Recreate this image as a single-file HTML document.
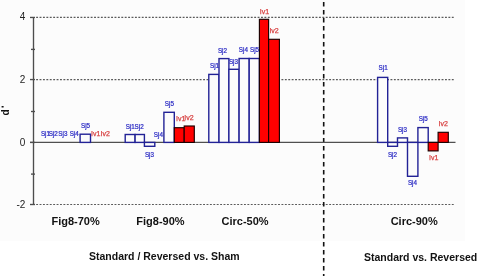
<!DOCTYPE html><html><head><meta charset="utf-8"><style>html,body{margin:0;padding:0;background:#fff;width:478px;height:276px;overflow:hidden}svg{display:block}text{font-family:"Liberation Sans",sans-serif}</style></head><body>
<svg width="478" height="276" viewBox="0 0 478 276">
<rect width="478" height="276" fill="#fff"/>
<rect width="465" height="241" fill="#fcfcfc"/>
<line x1="36.15" y1="17.45" x2="454.5" y2="17.45" stroke="#5a5a5a" stroke-width="1.2" stroke-dasharray="1.9 1.507"/>
<line x1="36.15" y1="79.55" x2="454.5" y2="79.55" stroke="#5a5a5a" stroke-width="1.2" stroke-dasharray="1.9 1.507"/>
<line x1="36.15" y1="204.50" x2="454.5" y2="204.50" stroke="#5a5a5a" stroke-width="1.2" stroke-dasharray="1.9 1.507"/>
<line x1="323.7" y1="2.0" x2="323.7" y2="276" stroke="#111" stroke-width="1.6" stroke-dasharray="4.5 3.5"/>
<line x1="30" y1="142.45" x2="455.5" y2="142.45" stroke="#505050" stroke-width="1.25"/>
<rect x="80.10" y="134.20" width="10.40" height="8.20" fill="#fcfcfc" stroke="#222296" stroke-width="1.4"/>
<rect x="125.20" y="134.50" width="9.90" height="7.90" fill="#fcfcfc" stroke="#222296" stroke-width="1.4"/>
<rect x="135.10" y="134.50" width="9.30" height="7.90" fill="#fcfcfc" stroke="#222296" stroke-width="1.4"/>
<rect x="144.40" y="142.40" width="10.40" height="3.90" fill="#fcfcfc" stroke="#222296" stroke-width="1.4"/>
<rect x="163.90" y="112.30" width="10.40" height="30.10" fill="#fcfcfc" stroke="#222296" stroke-width="1.4"/>
<rect x="174.30" y="127.70" width="9.90" height="14.70" fill="#ff0000" stroke="#1a0000" stroke-width="1.15"/>
<rect x="184.20" y="126.00" width="10.10" height="16.40" fill="#ff0000" stroke="#1a0000" stroke-width="1.15"/>
<rect x="208.80" y="74.40" width="10.20" height="68.00" fill="#fcfcfc" stroke="#222296" stroke-width="1.4"/>
<rect x="219.00" y="58.60" width="9.90" height="83.80" fill="#fcfcfc" stroke="#222296" stroke-width="1.4"/>
<rect x="228.90" y="69.30" width="10.20" height="73.10" fill="#fcfcfc" stroke="#222296" stroke-width="1.4"/>
<rect x="239.10" y="58.50" width="10.10" height="83.90" fill="#fcfcfc" stroke="#222296" stroke-width="1.4"/>
<rect x="249.20" y="58.50" width="10.20" height="83.90" fill="#fcfcfc" stroke="#222296" stroke-width="1.4"/>
<rect x="259.40" y="19.30" width="9.20" height="123.10" fill="#ff0000" stroke="#1a0000" stroke-width="1.15"/>
<rect x="268.60" y="39.30" width="10.80" height="103.10" fill="#ff0000" stroke="#1a0000" stroke-width="1.15"/>
<rect x="377.60" y="77.40" width="10.10" height="65.00" fill="#fcfcfc" stroke="#222296" stroke-width="1.4"/>
<rect x="387.70" y="142.40" width="9.80" height="3.90" fill="#fcfcfc" stroke="#222296" stroke-width="1.4"/>
<rect x="397.50" y="137.90" width="10.00" height="4.50" fill="#fcfcfc" stroke="#222296" stroke-width="1.4"/>
<rect x="407.50" y="142.40" width="10.40" height="33.90" fill="#fcfcfc" stroke="#222296" stroke-width="1.4"/>
<rect x="417.90" y="127.60" width="10.30" height="14.80" fill="#fcfcfc" stroke="#222296" stroke-width="1.4"/>
<rect x="428.20" y="142.40" width="9.90" height="8.50" fill="#ff0000" stroke="#1a0000" stroke-width="1.15"/>
<rect x="438.10" y="132.30" width="10.20" height="10.10" fill="#ff0000" stroke="#1a0000" stroke-width="1.15"/>
<line x1="33.5" y1="17.45" x2="33.5" y2="204.50" stroke="#4d4d4d" stroke-width="1.35"/>
<line x1="30" y1="17.45" x2="35" y2="17.45" stroke="#4d4d4d" stroke-width="1.35"/>
<line x1="30" y1="79.55" x2="35" y2="79.55" stroke="#4d4d4d" stroke-width="1.35"/>
<line x1="30" y1="142.45" x2="35" y2="142.45" stroke="#4d4d4d" stroke-width="1.35"/>
<line x1="30" y1="204.50" x2="35" y2="204.50" stroke="#4d4d4d" stroke-width="1.35"/>
<line x1="31" y1="49.40" x2="35" y2="49.40" stroke="#4d4d4d" stroke-width="1.35"/>
<line x1="31" y1="111.50" x2="35" y2="111.50" stroke="#4d4d4d" stroke-width="1.35"/>
<line x1="31" y1="174.10" x2="35" y2="174.10" stroke="#4d4d4d" stroke-width="1.35"/>
<g style="opacity:0.995">
<text x="25.4" y="20.05" font-size="10" text-anchor="end" fill="#222">4</text>
<text x="25.4" y="82.75" font-size="10" text-anchor="end" fill="#222">2</text>
<text x="25.4" y="145.65" font-size="10" text-anchor="end" fill="#222">0</text>
<text x="25.4" y="207.70" font-size="10" text-anchor="end" fill="#222">-2</text>
<text transform="translate(40.90,136.30) scale(0.9,1)" font-size="7.0" fill="#2a2ac4" stroke="#2a2ac4" stroke-width="0.25">Sj1</text>
<text transform="translate(48.70,136.30) scale(0.9,1)" font-size="7.0" fill="#2a2ac4" stroke="#2a2ac4" stroke-width="0.25">Sj2</text>
<text transform="translate(58.30,136.30) scale(0.9,1)" font-size="7.0" fill="#2a2ac4" stroke="#2a2ac4" stroke-width="0.25">Sj3</text>
<text transform="translate(69.70,136.30) scale(0.9,1)" font-size="7.0" fill="#2a2ac4" stroke="#2a2ac4" stroke-width="0.25">Sj4</text>
<text transform="translate(81.00,128.40) scale(0.9,1)" font-size="7.0" fill="#2a2ac4" stroke="#2a2ac4" stroke-width="0.25">Sj5</text>
<text transform="translate(91.00,136.30) scale(1.0,1)" font-size="7.0" fill="#d84444" stroke="#d84444" stroke-width="0.25">Iv1</text>
<text transform="translate(100.50,136.30) scale(1.0,1)" font-size="7.0" fill="#d84444" stroke="#d84444" stroke-width="0.25">Iv2</text>
<text transform="translate(125.70,128.50) scale(0.9,1)" font-size="7.0" fill="#2a2ac4" stroke="#2a2ac4" stroke-width="0.25">Sj1</text>
<text transform="translate(134.60,128.50) scale(0.9,1)" font-size="7.0" fill="#2a2ac4" stroke="#2a2ac4" stroke-width="0.25">Sj2</text>
<text transform="translate(144.90,156.60) scale(0.9,1)" font-size="7.0" fill="#2a2ac4" stroke="#2a2ac4" stroke-width="0.25">Sj3</text>
<text transform="translate(153.80,137.00) scale(0.9,1)" font-size="7.0" fill="#2a2ac4" stroke="#2a2ac4" stroke-width="0.25">Sj4</text>
<text transform="translate(164.80,105.90) scale(0.9,1)" font-size="7.0" fill="#2a2ac4" stroke="#2a2ac4" stroke-width="0.25">Sj5</text>
<text transform="translate(176.00,121.40) scale(1.0,1)" font-size="7.0" fill="#d84444" stroke="#d84444" stroke-width="0.25">Iv1</text>
<text transform="translate(184.20,119.70) scale(1.0,1)" font-size="7.0" fill="#d84444" stroke="#d84444" stroke-width="0.25">Iv2</text>
<text transform="translate(210.00,68.00) scale(0.9,1)" font-size="7.0" fill="#2a2ac4" stroke="#2a2ac4" stroke-width="0.25">Sj1</text>
<text transform="translate(217.90,52.50) scale(0.9,1)" font-size="7.0" fill="#2a2ac4" stroke="#2a2ac4" stroke-width="0.25">Sj2</text>
<text transform="translate(228.90,63.60) scale(0.9,1)" font-size="7.0" fill="#2a2ac4" stroke="#2a2ac4" stroke-width="0.25">Sj3</text>
<text transform="translate(238.80,51.90) scale(0.9,1)" font-size="7.0" fill="#2a2ac4" stroke="#2a2ac4" stroke-width="0.25">Sj4</text>
<text transform="translate(250.00,51.90) scale(0.9,1)" font-size="7.0" fill="#2a2ac4" stroke="#2a2ac4" stroke-width="0.25">Sj5</text>
<text transform="translate(259.80,13.90) scale(1.0,1)" font-size="7.0" fill="#d84444" stroke="#d84444" stroke-width="0.25">Iv1</text>
<text transform="translate(269.40,33.00) scale(1.0,1)" font-size="7.0" fill="#d84444" stroke="#d84444" stroke-width="0.25">Iv2</text>
<text transform="translate(378.60,70.40) scale(0.9,1)" font-size="7.0" fill="#2a2ac4" stroke="#2a2ac4" stroke-width="0.25">Sj1</text>
<text transform="translate(387.90,156.80) scale(0.9,1)" font-size="7.0" fill="#2a2ac4" stroke="#2a2ac4" stroke-width="0.25">Sj2</text>
<text transform="translate(397.90,131.70) scale(0.9,1)" font-size="7.0" fill="#2a2ac4" stroke="#2a2ac4" stroke-width="0.25">Sj3</text>
<text transform="translate(407.90,185.30) scale(0.9,1)" font-size="7.0" fill="#2a2ac4" stroke="#2a2ac4" stroke-width="0.25">Sj4</text>
<text transform="translate(418.70,121.40) scale(0.9,1)" font-size="7.0" fill="#2a2ac4" stroke="#2a2ac4" stroke-width="0.25">Sj5</text>
<text transform="translate(429.10,159.70) scale(1.0,1)" font-size="7.0" fill="#d84444" stroke="#d84444" stroke-width="0.25">Iv1</text>
<text transform="translate(438.50,125.80) scale(1.0,1)" font-size="7.0" fill="#d84444" stroke="#d84444" stroke-width="0.25">Iv2</text>
<text x="75.6" y="224.7" font-size="11" font-weight="bold" text-anchor="middle" fill="#111">Fig8-70%</text>
<text x="160.5" y="224.7" font-size="11" font-weight="bold" text-anchor="middle" fill="#111">Fig8-90%</text>
<text x="245.1" y="224.7" font-size="11" font-weight="bold" text-anchor="middle" fill="#111">Circ-50%</text>
<text x="414.2" y="224.7" font-size="11" font-weight="bold" text-anchor="middle" fill="#111">Circ-90%</text>
<text x="89.0" y="259.5" font-size="10.5" font-weight="bold" fill="#111">Standard / Reversed vs. Sham</text>
<text x="364" y="260.8" font-size="10.5" font-weight="bold" fill="#111">Standard vs. Reversed</text>
<text transform="translate(9.3,115.4) rotate(-90)" x="0" y="0" font-size="10" font-weight="bold" fill="#111">d</text>
<rect x="1.6" y="106.0" width="2.0" height="1.5" fill="#111"/>
</g>
</svg></body></html>
